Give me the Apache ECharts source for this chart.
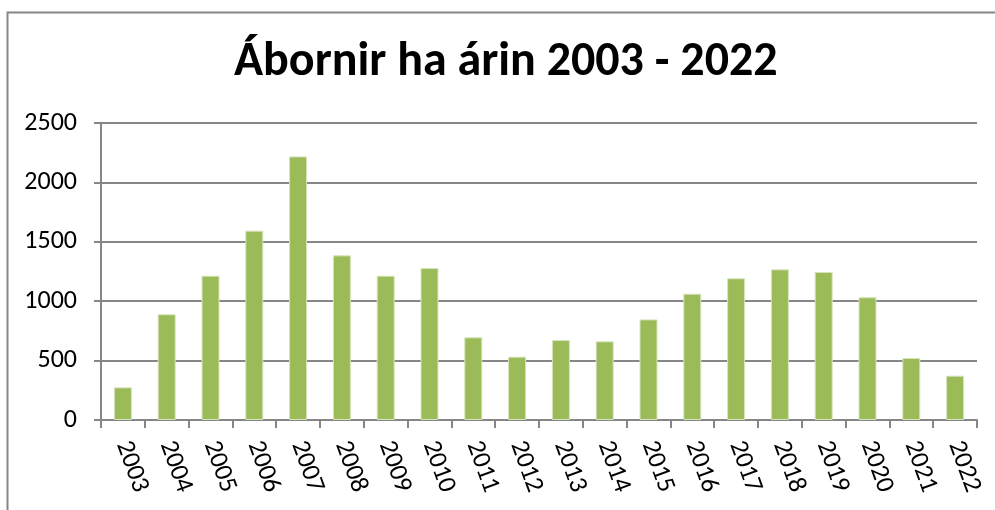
<!DOCTYPE html>
<html>
<head>
<meta charset="utf-8">
<script src="https://cdn.jsdelivr.net/npm/echarts@6/dist/echarts.min.js"></script>
<style>html,body{margin:0;padding:0;background:#fff}#c{width:995px;height:510px}</style>
</head>
<body>
<div id="c"></div>
<script>
const categories = ['2003','2004','2005','2006','2007','2008','2009','2010','2011','2012','2013','2014','2015','2016','2017','2018','2019','2020','2021','2022'];
const values = [275, 890, 1215, 1594, 2219, 1386, 1215, 1279, 696, 533, 673, 662, 847, 1063, 1193, 1268, 1246, 1033, 522, 373];
const titleText = 'Ábornir ha árin 2003 - 2022';

const FONT = "Carlito, 'Open Sans', sans-serif";
const chart = echarts.init(document.getElementById('c'), null, {renderer: 'canvas'});
chart.setOption({
  animation: false,
  backgroundColor: '#fff',
  graphic: [
    {type: 'rect', left: 5, top: 10, shape: {x: 0, y: 0, width: 1000, height: 600}, style: {fill: 'none', stroke: '#868686', lineWidth: 2}, silent: true}
  ],
  title: {
    text: titleText, left: 229, top: 34,
    textStyle: {fontFamily: FONT, fontWeight: 'bold', fontSize: 48, color: '#000'}
  },
  grid: {left: 101, right: 18, top: 123, bottom: 90, containLabel: false},
  xAxis: {
    type: 'category',
    data: categories,
    axisLine: {lineStyle: {color: '#868686', width: 2}},
    axisTick: {show: true, alignWithLabel: false, length: 8, lineStyle: {color: '#868686', width: 2}},
    axisLabel: {rotate: -70, margin: 22, fontSize: 26, fontFamily: FONT, color: '#000', interval: 0}
  },
  yAxis: {
    type: 'value',
    min: 0, max: 2500, interval: 500,
    axisLine: {show: true, lineStyle: {color: '#868686', width: 2}},
    axisTick: {show: true, length: 7, lineStyle: {color: '#868686', width: 2}},
    splitLine: {lineStyle: {color: '#868686', width: 2}},
    axisLabel: {margin: 24, fontSize: 26, fontFamily: FONT, color: '#000', formatter: v => String(v)}
  },
  series: [{
    type: 'bar',
    data: values,
    barWidth: 18,
    itemStyle: {color: '#9BBB59', borderColor: '#d7e4bd', borderWidth: 1}
  }]
});
</script>
</body>
</html>
